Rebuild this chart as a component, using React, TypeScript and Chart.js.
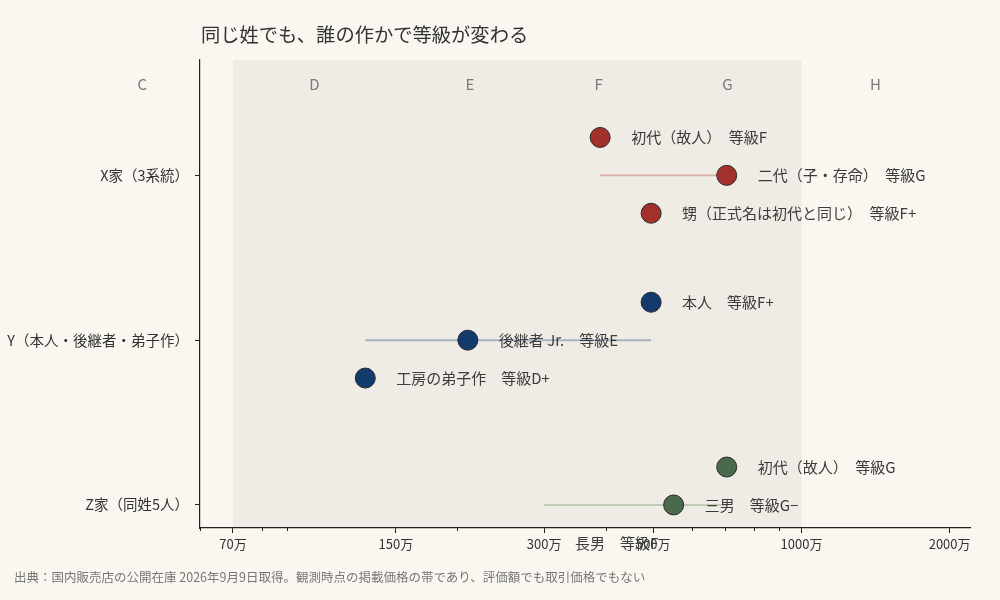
import { useEffect, useRef } from "react";
import { Chart, registerables, type ChartConfiguration, type Plugin } from "chart.js";

Chart.register(...registerables);

const FONT = "'Noto Sans CJK JP', 'Noto Sans', sans-serif";

// rows on the y axis
const groupLabels = ["X家（3系統）", "Y（本人・後継者・弟子作）", "Z家（同姓5人）"];
const groupColors = ["#a3312b", "#123a6c", "#4a6a4e"];
const rangeColors = ["#d9b5ad", "#a8b2c1", "#c3cab6"];
const rangeLow = [390, 130, 300];
const rangeHigh = [705, 495, 705];

// individual works (price in 万円)
const pointGroup = [0, 0, 0, 1, 1, 1, 2, 2, 2];
const pointSlot = [-1, 0, 1, -1, 0, 1, -1, 0, 1];
const pointPrice = [390, 705, 495, 495, 210, 130, 705, 550, 300];
const pointName = [
  "初代（故人）", "二代（子・存命）", "甥（正式名は初代と同じ）",
  "本人", "後継者 Jr.", "工房の弟子作",
  "初代（故人）", "三男", "長男",
];
const pointGrade = ["等級F", "等級G", "等級F+", "等級F+", "等級E", "等級D+", "等級G", "等級G−", "等級F"];

// grade bands along the price axis
const gradeNames = ["C", "D", "E", "F", "G", "H"];
const gradeBounds = [30, 70, 150, 300, 500, 1000, 2000];
const shadedFrom = 70;
const shadedTo = 1000;

const majorTicks = [70, 150, 300, 500, 1000, 2000];
const minorTicks = [60, 80, 90, 200, 400, 600, 700, 800, 900];

const SLOT = 0.23;

const bandPlugin: Plugin = {
  id: "bands",
  beforeDraw(chart) {
    const { ctx, chartArea, scales } = chart;
    const x = scales.x;
    const x0 = x.getPixelForValue(shadedFrom);
    const x1 = x.getPixelForValue(shadedTo);
    ctx.save();
    ctx.fillStyle = "#efece5";
    ctx.fillRect(x0, chartArea.top, x1 - x0, chartArea.bottom - chartArea.top);
    ctx.restore();
  },
  afterDatasetsDraw(chart) {
    const { ctx, chartArea, scales } = chart;
    const x = scales.x;
    ctx.save();
    // grade letters
    ctx.font = `15px ${FONT}`;
    ctx.fillStyle = "#7a7a7a";
    ctx.textAlign = "center";
    ctx.textBaseline = "middle";
    gradeNames.forEach((g, i) => {
      const mid = Math.sqrt(gradeBounds[i] * gradeBounds[i + 1]);
      ctx.fillText(g, x.getPixelForValue(mid), chartArea.top + 24);
    });
    // point labels
    ctx.font = `15px ${FONT}`;
    ctx.fillStyle = "#3c3c3c";
    ctx.textAlign = "left";
    const y = scales.y;
    pointPrice.forEach((p, i) => {
      const px = x.getPixelForValue(p);
      const py = y.getPixelForValue(pointGroup[i] + pointSlot[i] * SLOT);
      ctx.fillText(`${pointName[i]}　${pointGrade[i]}`, px + 31, py);
    });
    // minor ticks
    ctx.strokeStyle = "#222";
    ctx.lineWidth = 1;
    minorTicks.forEach(v => {
      const px = Math.round(x.getPixelForValue(v)) + 0.5;
      ctx.beginPath();
      ctx.moveTo(px, chartArea.bottom);
      ctx.lineTo(px, chartArea.bottom + 3);
      ctx.stroke();
    });
    ctx.restore();
  },
};

export default function App() {
  const canvasRef = useRef<HTMLCanvasElement>(null);

  useEffect(() => {
    document.body.style.margin = "0";
    if (!canvasRef.current) return;

    const rangeSets = groupLabels.map((g, gi) => ({
      label: g + " range",
      data: [{ x: rangeLow[gi], y: gi }, { x: rangeHigh[gi], y: gi }],
      showLine: true,
      borderColor: rangeColors[gi],
      borderWidth: 2,
      pointRadius: 0,
      order: 2,
      clip: 0,
    }));
    const pointSets = groupLabels.map((g, gi) => ({
      label: g,
      data: pointPrice
        .map((p, i) => ({ p, i }))
        .filter(o => pointGroup[o.i] === gi)
        .map(o => ({ x: o.p, y: gi + pointSlot[o.i] * SLOT })),
      backgroundColor: groupColors[gi],
      borderColor: "#2a2a2a",
      borderWidth: 1,
      pointRadius: 10,
      order: 1,
      clip: 0,
    }));

    const config: ChartConfiguration = {
      type: "scatter",
      data: { datasets: [...rangeSets, ...pointSets] as any },
      options: {
        animation: false,
        responsive: false,
        layout: { padding: { left: 0, right: 30, top: 60, bottom: 0 } },
        plugins: { legend: { display: false }, tooltip: { enabled: false } },
        scales: {
          x: {
            type: "logarithmic",
            min: 60,
            max: 2200,
            afterBuildTicks: s => { s.ticks = majorTicks.map(v => ({ value: v })); },
            afterFit: s => { s.height = 72; },
            ticks: {
              autoSkip: false,
              maxRotation: 0,
              padding: 3,
              color: "#333",
              font: { family: FONT, size: 13 },
              callback: v => `${v}万`,
            },
            grid: { drawOnChartArea: false, drawTicks: true, tickLength: 5, tickColor: "#222" },
            border: { color: "#222", width: 1.2 },
          },
          y: {
            type: "linear",
            reverse: true,
            min: -0.7,
            max: 2.14,
            afterBuildTicks: s => { s.ticks = groupLabels.map((_, i) => ({ value: i })); },
            afterFit: s => { s.width = 200; },
            ticks: {
              autoSkip: false,
              padding: 6,
              color: "#333",
              font: { family: FONT, size: 14.5 },
              callback: v => groupLabels[Number(v)] ?? "",
            },
            grid: { drawOnChartArea: false, drawTicks: true, tickLength: 5, tickColor: "#222" },
            border: { color: "#222", width: 1.2 },
          },
        },
      },
      plugins: [bandPlugin],
    };

    const chart = new Chart(canvasRef.current, config);
    return () => chart.destroy();
  }, []);

  return (
    <div style={{ position: "relative", width: 1000, height: 600, background: "#f9f7f0", fontFamily: FONT, overflow: "hidden" }}>
      <canvas ref={canvasRef} width={1000} height={600} style={{ position: "absolute", left: 0, top: 0, width: 1000, height: 600 }} />
      <div style={{ position: "absolute", left: 201, top: 21, fontSize: 19.3, color: "#333", lineHeight: "26px", whiteSpace: "nowrap" }}>
        同じ姓でも、誰の作かで等級が変わる
      </div>
      <div style={{ position: "absolute", left: 14, top: 569, fontSize: 12.5, color: "#777", lineHeight: "16px", whiteSpace: "nowrap" }}>
        出典：国内販売店の公開在庫 2026年9月9日取得。観測時点の掲載価格の帯であり、評価額でも取引価格でもない
      </div>
    </div>
  );
}
